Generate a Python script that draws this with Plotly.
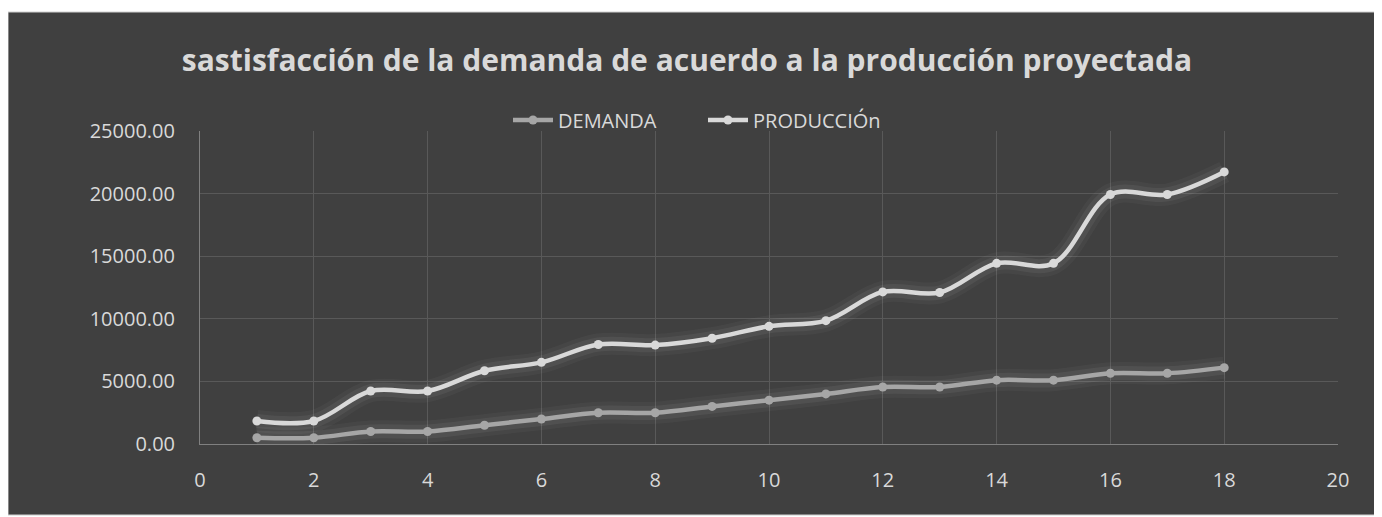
import plotly.graph_objects as go

# periodo
periodos = list(range(1, 19))
demanda = [500, 500, 1000, 1000, 1500, 2000, 2500, 2500, 3000, 3500,
           4000, 4550, 4550, 5100, 5100, 5650, 5650, 6100]
produccion = [1840, 1840, 4230, 4230, 5850, 6520, 7950, 7900, 8450, 9400,
              9850, 12150, 12100, 14430, 14430, 19930, 19930, 21730]

BG = "#404040"
TXT = "#d9d9d9"
GRID = "#595959"

# the page body adds an 8px margin, so work in page pixels and shift
OFF = 8
W, H = 1382 - OFF, 517 - OFF
L, R, T, B = 200, 1338, 131, 444  # plot area in page pixels


def px_x(p):
    return (p - L) / (R - L)


def px_y(p):
    return (B - p) / (B - T)


fig = go.Figure()

series = [
    ("DEMANDA", demanda, "#a6a6a6"),
    ("PRODUCCIÓn", produccion, "#d9d9d9"),
]

# glow under the lines
for name, vals, color in series:
    for w, a in [(22, 0.035), (14, 0.06)]:
        fig.add_trace(go.Scatter(
            x=periodos, y=vals, mode="lines",
            line=dict(color=f"rgba(255,255,255,{a})", width=w, shape="spline", smoothing=1),
            showlegend=False, hoverinfo="skip",
        ))

for name, vals, color in series:
    fig.add_trace(go.Scatter(
        x=periodos, y=vals, mode="lines+markers", name=name,
        line=dict(color=color, width=4.5, shape="spline", smoothing=1),
        marker=dict(color=color, size=9),
    ))

fig.update_layout(
    width=W, height=H,
    margin=dict(l=L - OFF, r=1382 - R, t=T - OFF, b=517 - B),
    paper_bgcolor="white",
    plot_bgcolor="rgba(0,0,0,0)",
    font=dict(family="Open Sans", color=TXT, size=20),
    title=dict(
        text="<b>sastisfacción de la demanda de acuerdo a la producción proyectada</b>",
        x=px_x(687), xanchor="center", xref="paper",
        y=1 - (60 - OFF) / H, yanchor="middle",
        font=dict(size=30, color=TXT, family="Open Sans"),
    ),
    legend=dict(
        orientation="h", x=px_x(508), xanchor="left", y=px_y(120), yanchor="middle",
        font=dict(size=20, color=TXT), bgcolor="rgba(0,0,0,0)",
        itemwidth=40, entrywidth=140,
    ),
    shapes=[dict(
        type="rect", xref="paper", yref="paper",
        x0=px_x(8), x1=px_x(1390), y0=px_y(515), y1=px_y(12),
        fillcolor=BG, line=dict(color="#d0d0d0", width=1), layer="below",
    )],
    xaxis=dict(
        range=[0, 20], dtick=2, tick0=0, showgrid=True, gridcolor=GRID, gridwidth=1,
        showline=True, linecolor="#808080", linewidth=1, mirror=False,
        zeroline=False, ticks="", ticklabelstandoff=18,
        tickfont=dict(size=20, color=TXT),
    ),
    yaxis=dict(
        range=[0, 25000], dtick=5000, tickformat=".2f", showgrid=True,
        gridcolor=GRID, gridwidth=1, showline=True, linecolor="#808080",
        linewidth=1, zeroline=False, ticks="", ticklabelstandoff=20,
        tickfont=dict(size=20, color=TXT),
    ),
)

fig.write_html("out.html")
